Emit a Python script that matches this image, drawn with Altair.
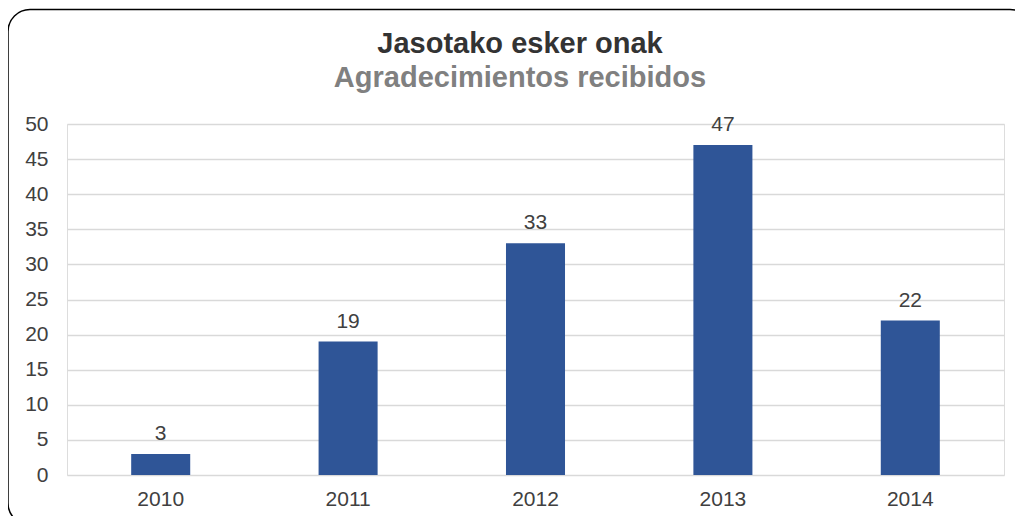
import altair as alt
import pandas as pd

years = ["2010", "2011", "2012", "2013", "2014"]
values = [3, 19, 33, 47, 22]
title_text = "Jasotako esker onak"
subtitle_text = "Agradecimientos recibidos"

df = pd.DataFrame({"year": years, "value": values})
tdf = pd.DataFrame({"t": [title_text], "s": [subtitle_text]})

W, H = 937, 351

base = alt.Chart(df)
tbase = alt.Chart(tdf)

border = tbase.mark_rect(
    fill="transparent", stroke="#000000", strokeWidth=1.5, cornerRadius=22
).encode(
    x=alt.value(-59), x2=alt.value(965), y=alt.value(-114.5), y2=alt.value(401)
)

title1 = tbase.mark_text(fontSize=29, fontWeight="bold", color="#333333",
                         font="Liberation Sans", align="center",
                         baseline="alphabetic").encode(
    x=alt.value(453), y=alt.value(-71), text="t:N")
title2 = tbase.mark_text(fontSize=29, fontWeight="bold", color="#808080",
                         font="Liberation Sans", align="center",
                         baseline="alphabetic").encode(
    x=alt.value(453), y=alt.value(-37), text="s:N")

xenc = alt.X("year:N", title=None,
             scale=alt.Scale(paddingInner=0.685, paddingOuter=0.3425),
             axis=alt.Axis(labelAngle=0, labelFontSize=21, labelColor="#404040",
                           labelPadding=13, ticks=False, domain=False, grid=False,
                           labelFont="Liberation Sans"))
yenc = alt.Y("value:Q", title=None,
             scale=alt.Scale(domain=[0, 50], nice=False),
             axis=alt.Axis(values=[0, 5, 10, 15, 20, 25, 30, 35, 40, 45, 50],
                           labelOverlap=False, labelFontSize=21,
                           labelColor="#404040", labelPadding=19, ticks=False,
                           domain=False, gridColor="#d9d9d9", gridWidth=1.3,
                           labelFont="Liberation Sans"))

bars = base.mark_bar(color="#2F5597").encode(x=xenc, y=yenc)
labels = base.mark_text(fontSize=21, color="#404040", baseline="alphabetic",
                        dy=-14, font="Liberation Sans").encode(
    x=xenc, y=yenc, text="value:Q")

chart = alt.layer(bars, labels, title1, title2, border).properties(
    width=W, height=H,
    autosize=alt.AutoSizeParams(type="none"),
    padding={"left": 59, "top": 116, "right": 11, "bottom": 41},
).configure_view(strokeWidth=0, strokeOpacity=0).configure(background="white")

chart.save("out.html", embed_options={"renderer": "svg", "actions": False})
